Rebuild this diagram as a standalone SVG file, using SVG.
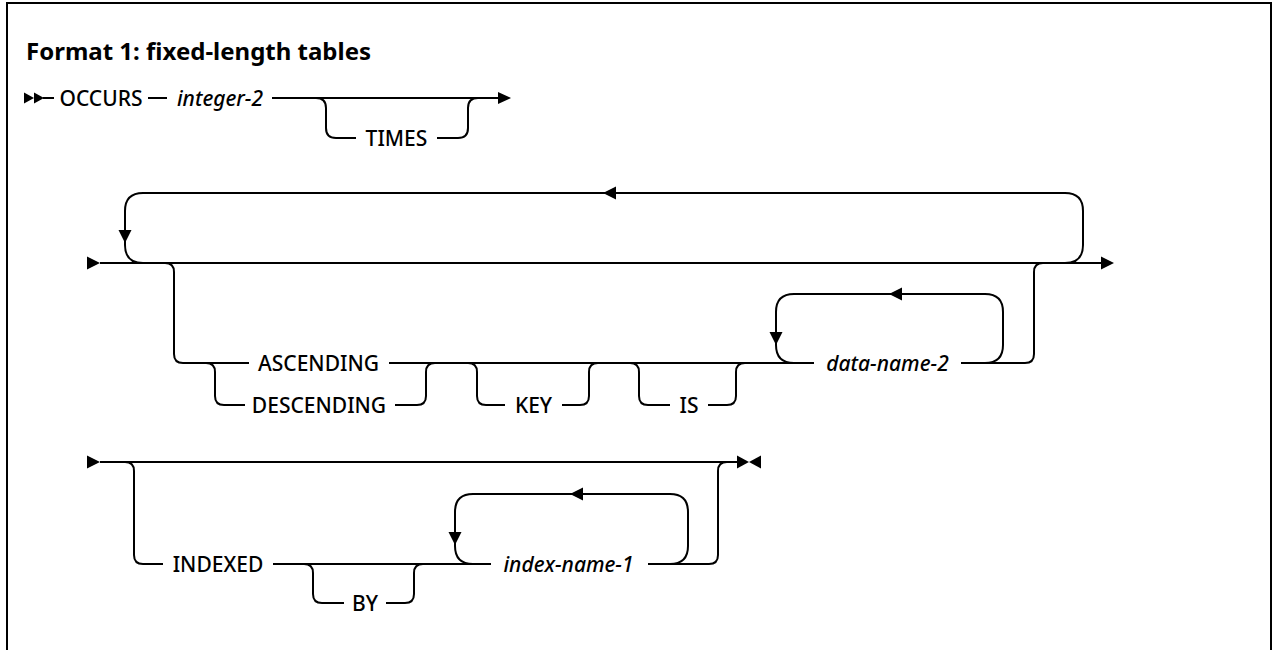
<svg xmlns="http://www.w3.org/2000/svg" width="1274" height="650" viewBox="0 0 1274 650">
<style>
.ln{fill:none;stroke:#000;stroke-width:2}
.ah{fill:#000;stroke:none}
.t{font-family:"Noto Sans","Liberation Sans",Arial,sans-serif;font-size:21px;font-weight:500;fill:#000;text-anchor:middle}
.v{font-style:italic}
.title{font-family:"Noto Sans","Liberation Sans",Arial,sans-serif;font-size:24px;font-weight:bold;fill:#000}
</style>
<rect x="0" y="0" width="1274" height="650" fill="#fff"/>
<rect x="7" y="3" width="1264" height="700" fill="none" stroke="#000" stroke-width="2"/>
<text class="title" x="26" y="60">Format 1: fixed-length tables</text>
<g id="connectors">
  <!-- row 1 -->
  <path class="ln" d="M43,98 H54 M148,98 H167 M272,98 H500"/>
  <path class="ln" d="M316,98 q10,0 10,10 v20 q0,10 10,10 H356 M437,138 H458 q10,0 10,-10 v-20 q0,-10 10,-10"/>
  <polygon class="ah" points="24,92.5 34,98 24,103.5"/>
  <polygon class="ah" points="34,92.5 44,98 34,103.5"/>
  <polygon class="ah" points="498,92 511,98 498,104"/>
  <!-- row 2 -->
  <polygon class="ah" points="87,256.5 100,263 87,269.5"/>
  <path class="ln" d="M100,263 H1103"/>
  <polygon class="ah" points="1101,256.5 1114,263 1101,269.5"/>
  <path class="ln" d="M1065,263 q18,0 18,-18 v-34 q0,-18 -18,-18 H143 q-18,0 -18,18 v34 q0,18 18,18"/>
  <polygon class="ah" points="118.5,230 131.5,230 125,243"/>
  <polygon class="ah" points="616,186.5 616,199.5 603,193"/>
  <path class="ln" d="M165,263 q9,0 9,9 v82 q0,9 9,9 H249 M389,363 H814 M961,363 H1025 q9,0 9,-9 v-82 q0,-9 9,-9"/>
  <path class="ln" d="M206,363 q9,0 9,9 v24 q0,9 9,9 H245 M395,405 H417 q9,0 9,-9 v-24 q0,-9 9,-9"/>
  <path class="ln" d="M468,363 q9,0 9,9 v24 q0,9 9,9 H505 M562,405 H580 q9,0 9,-9 v-24 q0,-9 9,-9"/>
  <path class="ln" d="M630,363 q9,0 9,9 v24 q0,9 9,9 H670 M708,405 H727 q9,0 9,-9 v-24 q0,-9 9,-9"/>
  <path class="ln" d="M985,363 q18,0 18,-18 v-33 q0,-18 -18,-18 H794 q-18,0 -18,18 v33 q0,18 18,18"/>
  <polygon class="ah" points="902,287.5 902,300.5 889,294"/>
  <polygon class="ah" points="769.5,332 782.5,332 776,345"/>
  <!-- row 3 -->
  <polygon class="ah" points="87,455.5 100,462 87,468.5"/>
  <path class="ln" d="M100,462 H739"/>
  <polygon class="ah" points="737,455.5 749,462 737,468.5"/>
  <polygon class="ah" points="761,455.5 749,462 761,468.5"/>
  <path class="ln" d="M125,462 q9,0 9,9 v84 q0,9 9,9 H163 M273,564 H491 M648,564 H709 q9,0 9,-9 v-84 q0,-9 9,-9"/>
  <path class="ln" d="M304,564 q9,0 9,9 v21 q0,9 9,9 H344 M386,603 H405 q9,0 9,-9 v-21 q0,-9 9,-9"/>
  <path class="ln" d="M670,564 q18,0 18,-18 v-34 q0,-18 -18,-18 H473 q-18,0 -18,18 v34 q0,18 18,18"/>
  <polygon class="ah" points="583,487.5 583,500.5 570,494"/>
  <polygon class="ah" points="448.5,532 461.5,532 455,545"/>
</g>
<g id="n-occurs"><text class="t" x="101" y="105.5">OCCURS</text></g>
<g id="n-integer2"><text class="t v" x="220" y="105.5">integer-2</text></g>
<g id="n-times"><text class="t" x="396.5" y="145.5">TIMES</text></g>
<g id="n-ascending"><text class="t" x="318.5" y="370.5">ASCENDING</text></g>
<g id="n-descending"><text class="t" x="319" y="412.5">DESCENDING</text></g>
<g id="n-key"><text class="t" x="533.5" y="412.5">KEY</text></g>
<g id="n-is"><text class="t" x="689" y="412.5">IS</text></g>
<g id="n-dataname2"><text class="t v" x="887.5" y="370.5">data-name-2</text></g>
<g id="n-indexed"><text class="t" x="218" y="571.5">INDEXED</text></g>
<g id="n-by"><text class="t" x="365" y="610.5">BY</text></g>
<g id="n-indexname1"><text class="t v" x="568.5" y="571.5">index-name-1</text></g>
</svg>
